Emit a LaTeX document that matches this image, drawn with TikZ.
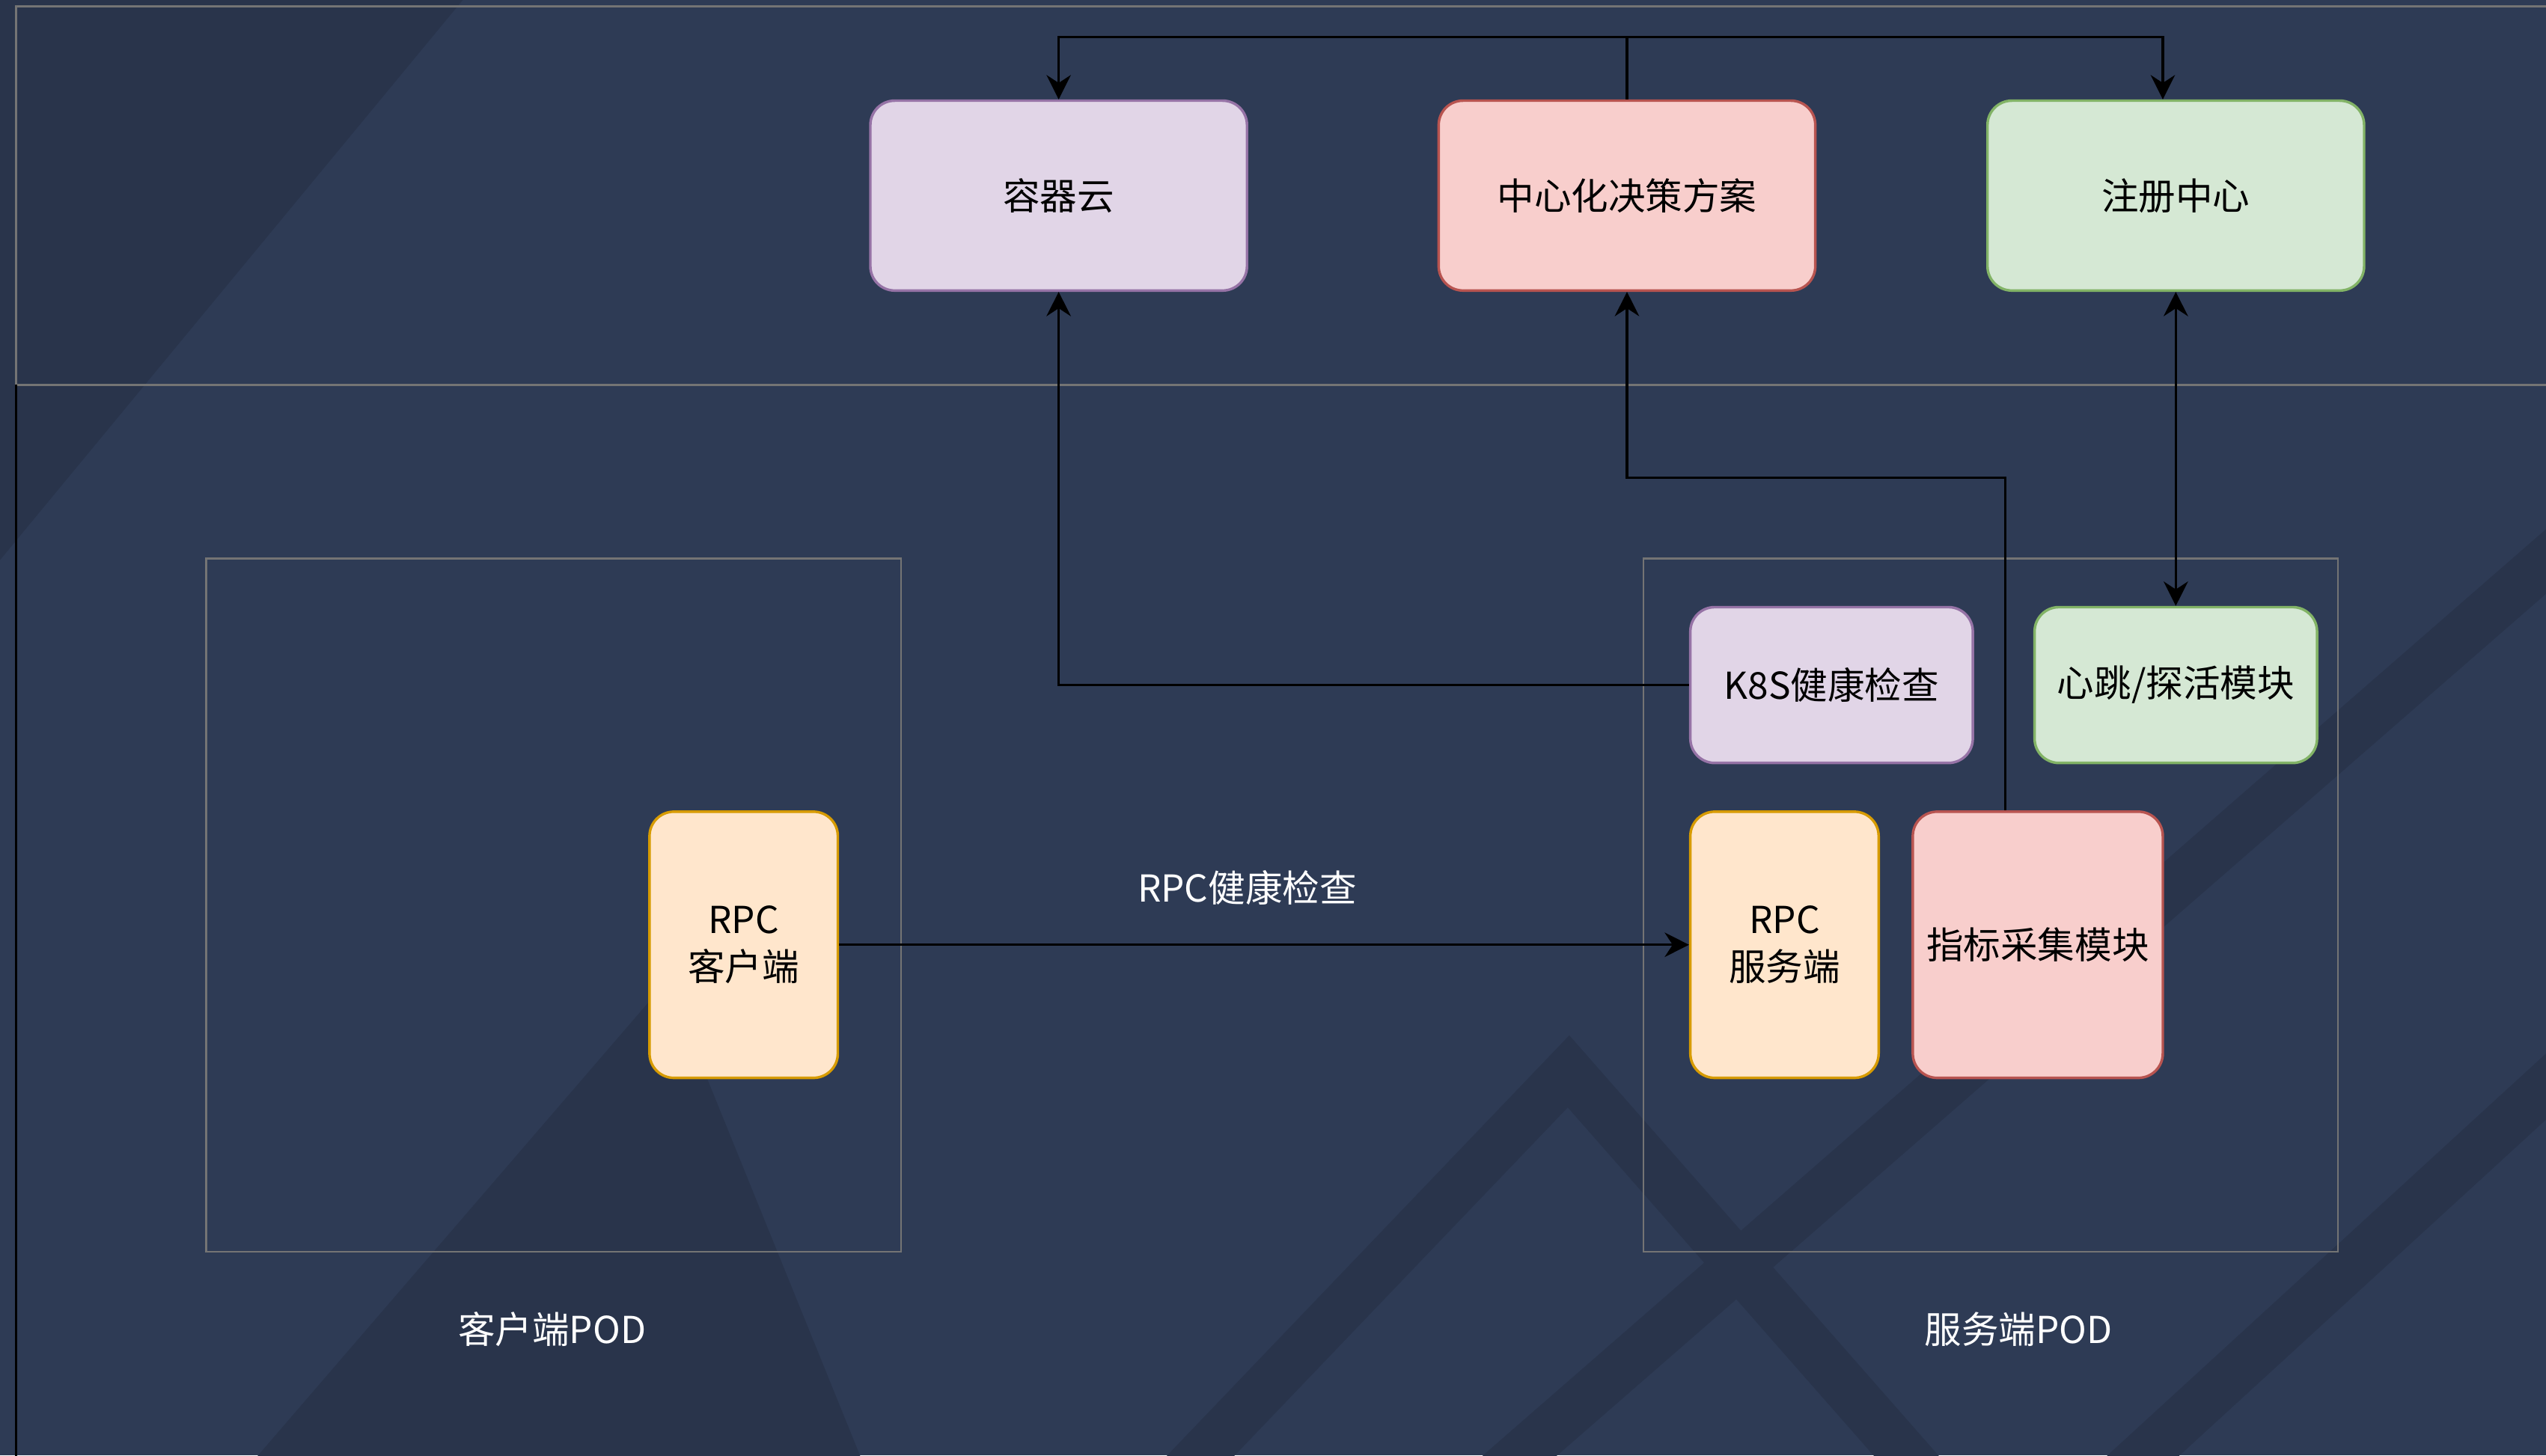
\documentclass[tikz,border=0pt]{standalone}
\usepackage{fontspec}
\setmainfont{Noto Sans CJK SC}
\usetikzlibrary{arrows.meta}
\definecolor{canvas}{HTML}{2E3B55}
\definecolor{dimtone}{HTML}{29344B}
\definecolor{framegrey}{HTML}{747474}
\definecolor{lilacfill}{HTML}{E1D5E7}
\definecolor{lilacline}{HTML}{9673A6}
\definecolor{rosefill}{HTML}{F8CECC}
\definecolor{roseline}{HTML}{B85450}
\definecolor{mintfill}{HTML}{D5E8D4}
\definecolor{mintline}{HTML}{82B366}
\definecolor{peachfill}{HTML}{FFE6CC}
\definecolor{peachline}{HTML}{D79B00}

\begin{document}
\begin{tikzpicture}[
  x=0.02cm,y=-0.02cm,
  wire/.style={draw=black, line width=0.8pt},
  flow/.style={wire, -{Stealth[length=3mm,width=3mm]}},
  twoway/.style={wire, {Stealth[length=3mm,width=3mm]}-{Stealth[length=3mm,width=3mm]}},
  module/.style={rounded corners=0.3cm, line width=0.9pt, align=center,
    text=black, inner sep=0pt, font=\fontsize{13}{16.5}\selectfont},
  lilacbox/.style={module, fill=lilacfill, draw=lilacline},
  rosebox/.style={module, fill=rosefill, draw=roseline},
  mintbox/.style={module, fill=mintfill, draw=mintline},
  peachbox/.style={module, fill=peachfill, draw=peachline},
  podframe/.style={draw=framegrey, line width=0.6pt},
  caption/.style={text=white, font=\fontsize{13}{16}\selectfont},
  stripe/.style={draw=dimtone, line width=0.6cm}
]

% Canvas and its faint texture.
\useasboundingbox (0,0) rectangle (1568,896.5);
\clip (0,0) rectangle (1568,896.5);
\fill[canvas] (0,0) rectangle (1568,896.5);
\fill[dimtone] (0,0) -- (285,0) -- (0,345) -- cycle;
\fill[dimtone] (411,604) -- (531,900) -- (156,900) -- cycle;
\draw[stripe] (722,915) -- (966,660) -- (1190,915);
\draw[stripe] (915,915) -- (1600,318);
\draw[stripe] (1300,915) -- (1600,640);

% Outer frames.
\draw[draw=framegrey, line width=0.8pt] (1600,4) -- (10,4) -- (10,237) -- (1600,237);
\draw[black, line width=0.8pt] (10,237) -- (10,900);

% Platform row.
\node[lilacbox, minimum width=4.64cm, minimum height=2.34cm]
  (cloud) at (652,120.5) {容器云};
\node[rosebox, minimum width=4.64cm, minimum height=2.34cm]
  (decision) at (1002,120.5) {中心化决策方案};
\node[mintbox, minimum width=4.64cm, minimum height=2.34cm]
  (registry) at (1340,120.5) {注册中心};

% Pods.
\node[podframe, minimum width=8.56cm, minimum height=8.54cm]
  (clientpod) at (341,557.5) {};
\node[podframe, minimum width=8.56cm, minimum height=8.54cm]
  (serverpod) at (1226,557.5) {};
\node[caption] (clientcap) at (340,819) {客户端POD};
\node[caption] (servercap) at (1243,819) {服务端POD};

\node[peachbox, minimum width=2.32cm, minimum height=3.28cm]
  (client) at (458,582) {RPC\\客户端};
\node[peachbox, minimum width=2.32cm, minimum height=3.28cm]
  (server) at (1099,582) {RPC\\服务端};
\node[rosebox, minimum width=3.08cm, minimum height=3.28cm]
  (metrics) at (1255,582) {指标采集模块};
\node[lilacbox, minimum width=3.48cm, minimum height=1.92cm]
  (k8s) at (1128,422) {K8S健康检查};
\node[mintbox, minimum width=3.48cm, minimum height=1.92cm]
  (heartbeat) at (1340,422) {心跳/探活模块};

% Connectors.
\coordinate (bus) at (1002,23);
\draw[wire] (decision.north) -- (bus);
\draw[flow] (bus) -| (cloud.north);
\draw[flow] (bus) -| ([xshift=-0.16cm]registry.north);

\draw[flow] (k8s.west) -| (cloud.south);
\draw[flow] ([xshift=-0.4cm]metrics.north) -- ++(0,-205) -| (decision.south);
\draw[twoway] (registry.south) -- (heartbeat.north);

\draw[flow] (client.east) -- (server.west)
  node[caption, pos=0.48, yshift=7mm] (rpclabel) {RPC健康检查};

\end{tikzpicture}
\end{document}
